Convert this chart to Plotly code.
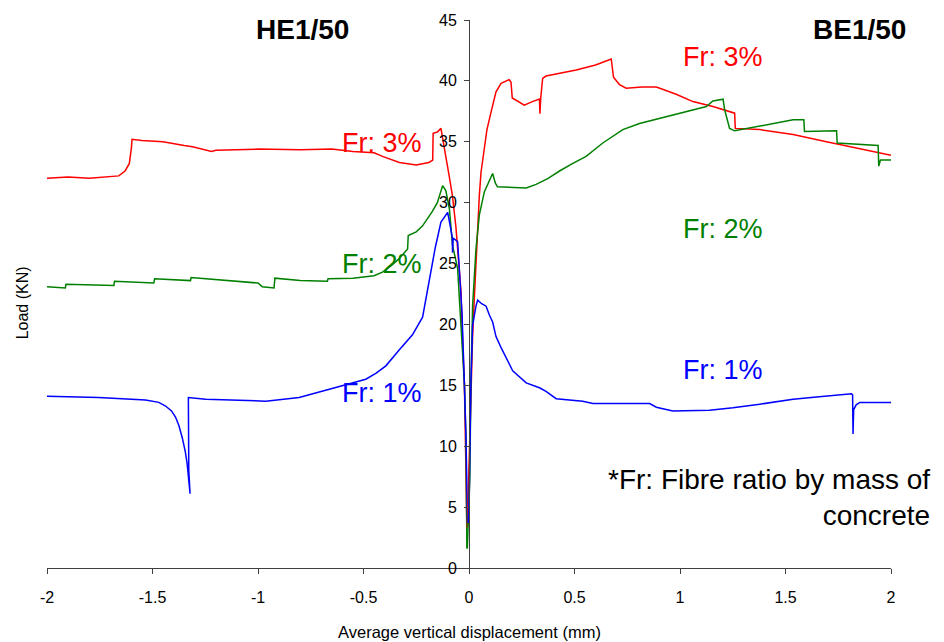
import plotly.graph_objects as go

# ---------------- data ----------------
x_ticks = [-2, -1.5, -1, -0.5, 0, 0.5, 1, 1.5, 2]
x_tick_labels = ["-2", "-1.5", "-1", "-0.5", "0", "0.5", "1", "1.5", "2"]
y_ticks = [0, 5, 10, 15, 20, 25, 30, 35, 40, 45]
y_tick_labels = ["0", "5", "10", "15", "20", "25", "30", "35", "40", "45"]

# HE1/50 (negative displacement side)
he_fr3_x = [-2.0, -1.9, -1.8, -1.7, -1.66, -1.63, -1.61, -1.60, -1.597, -1.55, -1.45, -1.35, -1.31,
            -1.22, -1.2, -1.0, -0.8, -0.65, -0.55, -0.45, -0.41, -0.33, -0.25, -0.19, -0.172,
            -0.170, -0.15, -0.133, -0.125, -0.109, -0.093, -0.078, -0.062, -0.046, -0.038,
            -0.030, -0.022, -0.018, -0.010]
he_fr3_y = [32.0, 32.1, 32.0, 32.1, 32.2, 32.6, 33.2, 34.5, 35.2, 35.1, 35.0, 34.7, 34.6,
            34.2, 34.3, 34.4, 34.35, 34.4, 34.2, 34.1, 33.8, 33.3, 33.1, 33.3, 33.5,
            35.7, 35.8, 36.1, 35.4, 33.7, 32.1, 30.5, 28.0, 24.6, 22.7,
            18.4, 15.2, 11.5, 3.3]

he_fr2_x = [-2.0, -1.913, -1.91, -1.683, -1.68, -1.494, -1.49, -1.32, -1.317, -1.2, -1.122, -1.0,
            -0.98, -0.924, -0.92, -0.8, -0.671, -0.668, -0.55, -0.489, -0.45, -0.41, -0.37,
            -0.331, -0.291, -0.288, -0.25, -0.22, -0.173, -0.15, -0.125, -0.11, -0.093,
            -0.078, -0.054, -0.038, -0.022, -0.014, -0.010]
he_fr2_y = [23.1, 23.0, 23.3, 23.2, 23.55, 23.4, 23.75, 23.6, 23.85, 23.7, 23.55, 23.4,
            23.1, 23.0, 23.8, 23.6, 23.55, 23.75, 23.8, 23.9, 24.0, 24.3, 24.8,
            25.4, 26.2, 27.3, 27.6, 28.1, 29.3, 30.0, 31.4, 31.0, 29.5,
            26.5, 24.6, 19.9, 15.2, 10.5, 1.6]

he_fr1_x = [-2.0, -1.756, -1.533, -1.47, -1.438, -1.41, -1.391, -1.375, -1.359, -1.345, -1.336,
            -1.325, -1.322, -1.328, -1.33, -1.248, -1.1, -0.963, -0.805, -0.663, -0.55, -0.489,
            -0.44, -0.394, -0.331, -0.268, -0.22, -0.19, -0.16, -0.133, -0.101, -0.085,
            -0.079, -0.078, -0.075, -0.054, -0.046, -0.033, -0.022, -0.014, -0.007]
he_fr1_y = [14.1, 14.0, 13.8, 13.6, 13.3, 12.9, 12.4, 11.7, 10.7, 9.6, 8.6,
            7.0, 6.1, 8.0, 14.0, 13.85, 13.75, 13.7, 14.0, 14.7, 15.2, 15.5,
            16.0, 16.6, 17.9, 19.15, 20.6, 23.5, 26.3, 28.4, 29.2, 27.7,
            27.1, 25.9, 27.1, 26.8, 24.6, 20.9, 15.2, 10.5, 3.7]

# BE1/50 (positive displacement side)
be_fr3_x = [-0.008, 0.001, 0.009, 0.017, 0.025, 0.041, 0.049, 0.057, 0.073, 0.085, 0.104, 0.128,
            0.152, 0.19, 0.199, 0.205, 0.262, 0.30, 0.334, 0.336, 0.34, 0.349, 0.365, 0.45,
            0.508, 0.6, 0.674, 0.685, 0.713, 0.745, 0.82, 0.888, 0.982, 1.061, 1.156, 1.259,
            1.262, 1.378, 1.536, 1.694, 1.852, 2.0]
be_fr3_y = [3.3, 9.0, 15.2, 19.0, 22.1, 28.5, 30.6, 32.5, 34.4, 36.0, 37.4, 39.1,
            39.8, 40.1, 39.9, 38.6, 38.0, 38.3, 38.5, 37.3, 38.6, 40.2, 40.4, 40.7,
            40.9, 41.3, 41.8, 40.3, 39.7, 39.4, 39.5, 39.5, 38.9, 38.3, 37.9, 37.35,
            36.1, 36.0, 35.6, 35.0, 34.4, 33.9]

be_fr2_x = [-0.008, 0.004, 0.009, 0.017, 0.033, 0.049, 0.073, 0.096, 0.112, 0.125, 0.135, 0.271,
            0.318, 0.375, 0.429, 0.49, 0.555, 0.634, 0.729, 0.808, 0.966, 1.125, 1.156, 1.204,
            1.212, 1.235, 1.259, 1.378, 1.536, 1.587, 1.59, 1.742, 1.745, 1.939, 1.942, 1.95, 2.0]
be_fr2_y = [1.6, 7.4, 15.2, 21.5, 26.2, 29.0, 30.9, 31.8, 32.4, 31.6, 31.3, 31.2,
            31.5, 32.0, 32.6, 33.2, 33.8, 34.9, 36.0, 36.5, 37.2, 37.9, 38.35, 38.5,
            37.6, 36.1, 35.9, 36.3, 36.8, 36.8, 35.85, 35.9, 34.9, 34.7, 33.0, 33.5, 33.5]

be_fr1_x = [-0.004, 0.001, 0.009, 0.017, 0.033, 0.041, 0.06, 0.081, 0.096, 0.112, 0.128, 0.152,
            0.207, 0.254, 0.271, 0.334, 0.365, 0.413, 0.539, 0.587, 0.856, 0.888, 0.966, 1.14,
            1.251, 1.378, 1.536, 1.647, 1.813, 1.818, 1.82, 1.823, 1.835, 1.852, 2.0]
be_fr1_y = [3.7, 5.8, 15.2, 19.9, 21.5, 22.0, 21.7, 21.5, 20.8, 20.2, 19.0, 18.1,
            16.2, 15.5, 15.2, 14.8, 14.5, 13.9, 13.7, 13.5, 13.5, 13.2, 12.9, 12.95,
            13.15, 13.45, 13.85, 14.05, 14.3, 14.2, 11.0, 13.0, 13.4, 13.6, 13.6]

series = [
    (he_fr3_x, he_fr3_y, "#FF0000"),
    (he_fr2_x, he_fr2_y, "#008000"),
    (he_fr1_x, he_fr1_y, "#0000FF"),
    (be_fr3_x, be_fr3_y, "#FF0000"),
    (be_fr2_x, be_fr2_y, "#008000"),
    (be_fr1_x, be_fr1_y, "#0000FF"),
]

FONT = "Liberation Sans, Arial, sans-serif"
AX = "#404040"

fig = go.Figure()
for xs, ys, c in series:
    fig.add_trace(go.Scatter(x=xs, y=ys, mode="lines",
                             line=dict(color=c, width=1.5), showlegend=False,
                             hoverinfo="skip"))

fig.update_layout(
    width=944, height=642,
    margin=dict(l=47, r=53, t=17, b=74),
    paper_bgcolor="white", plot_bgcolor="white",
    font=dict(family=FONT, size=16, color="black"),
    xaxis=dict(range=[-2, 2], tickvals=x_ticks, ticktext=x_tick_labels,
               showgrid=False, zeroline=False, showline=True, linecolor=AX, linewidth=1,
               ticks="outside", ticklen=5, tickcolor=AX, ticklabelstandoff=10,
               tickfont=dict(size=16, color="black")),
    yaxis=dict(range=[0, 45], tickvals=y_ticks, ticktext=y_tick_labels,
               anchor="free", position=0.5, side="left",
               showgrid=False, zeroline=False, showline=True, linecolor=AX, linewidth=1,
               ticks="outside", ticklen=5, tickcolor=AX, ticklabelstandoff=4,
               tickfont=dict(size=16, color="black")),
)

ann = []
ann.append(dict(x=-0.79, y=44.2, xref="x", yref="y", text="<b>HE1/50</b>", showarrow=False,
                font=dict(size=28, color="black", family=FONT)))
ann.append(dict(x=1.85, y=44.2, xref="x", yref="y", text="<b>BE1/50</b>", showarrow=False,
                font=dict(size=28, color="black", family=FONT)))
labels = [
    (-0.414, 34.9, "Fr: 3%", "#FF0000"),
    (-0.414, 25.0, "Fr: 2%", "#008000"),
    (-0.414, 14.4, "Fr: 1%", "#0000FF"),
    (1.204, 42.0, "Fr: 3%", "#FF0000"),
    (1.204, 27.8, "Fr: 2%", "#008000"),
    (1.204, 16.3, "Fr: 1%", "#0000FF"),
]
for x, y, t, c in labels:
    ann.append(dict(x=x, y=y, xref="x", yref="y", text=t, showarrow=False,
                    font=dict(size=27, color=c, family=FONT)))
ann.append(dict(x=1.048, y=0.128, xref="paper", yref="paper",
                text="*Fr: Fibre ratio by mass of<br>concrete", showarrow=False,
                xanchor="right", yanchor="middle", align="right",
                font=dict(size=28, color="black", family=FONT)))
ann.append(dict(x=0.5, y=-0.116, xref="paper", yref="paper",
                text="Average vertical displacement (mm)", showarrow=False,
                xanchor="center", yanchor="middle",
                font=dict(size=16.5, color="black", family=FONT)))
ann.append(dict(x=-0.0296, y=0.483, xref="paper", yref="paper", text="Load (KN)",
                showarrow=False, textangle=-90, xanchor="center", yanchor="middle",
                font=dict(size=16, color="black", family=FONT)))
fig.update_layout(annotations=ann)

fig.write_html("out.html", config={"displayModeBar": False},
               post_script="document.body.style.margin='0px';")
